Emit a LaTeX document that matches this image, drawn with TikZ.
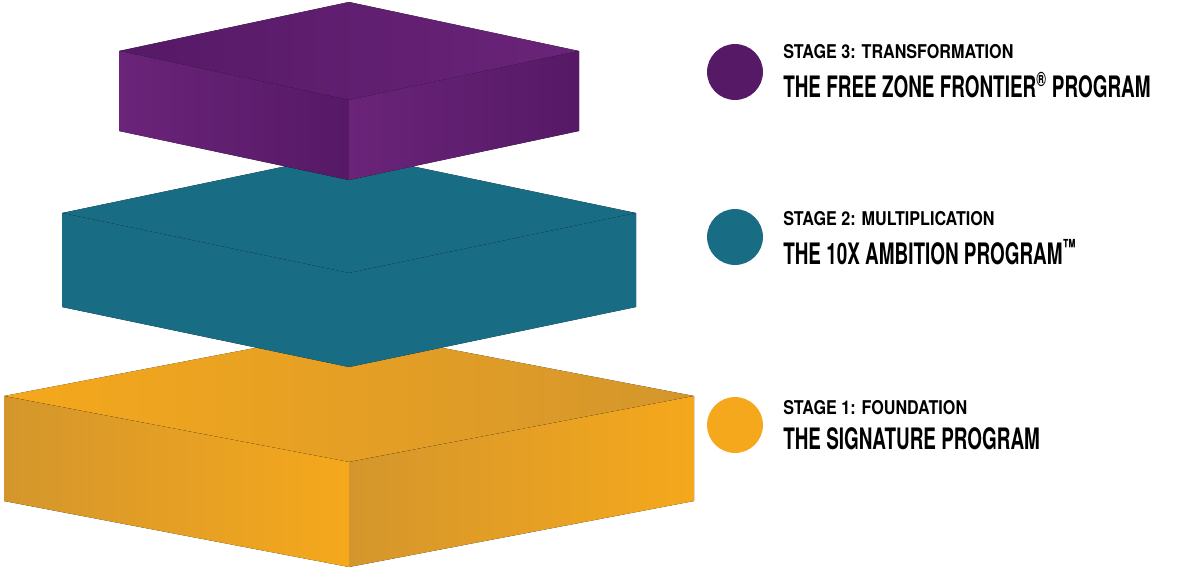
\documentclass[tikz,border=0pt]{standalone}
\usepackage{fontspec}
\setmainfont{TeX Gyre Heros}
\newfontfamily\stagefont{TeX Gyre Heros}[FakeStretch=0.85]
\newfontfamily\namefont{TeX Gyre Heros}[FakeStretch=0.64]
\definecolor{purpA}{HTML}{6A2479}
\definecolor{purpB}{HTML}{561966}
\definecolor{tealA}{HTML}{1A7A92}
\definecolor{tealB}{HTML}{186C84}
\definecolor{gold}{HTML}{D4962C}
\definecolor{goldLight}{HTML}{EDAE5E}
\definecolor{goldBright}{HTML}{F5A81C}
\tikzset{
dotstyle/.style={circle, minimum size=56pt*0.71, inner sep=0pt},
stagestyle/.style={anchor=west, inner sep=0pt, font=\stagefont\bfseries\fontsize{13.5}{14}\selectfont},
namestyle/.style={anchor=west, inner sep=0pt, font=\namefont\bfseries\fontsize{21}{22}\selectfont}
}
% slab: centre x, half width, top y, rise, thickness, colours left/mid/right
\newcommand{\slab}[8]{
  \fill [left color=#8, middle color=#7, right color=#6]
    (#1, #3) -- (#1-#2, #3+#4) -- (#1, #3+2*#4) -- (#1+#2, #3+#4) -- cycle;
  \fill [left color=#6, middle color=#7, right color=#8]
    (#1-#2, #3+#4) -- (#1, #3+2*#4) -- (#1, #3+2*#4+#5) -- (#1-#2, #3+#4+#5) -- cycle;
  \fill [left color=#6, middle color=#7, right color=#8]
    (#1, #3+2*#4) -- (#1+#2, #3+#4) -- (#1+#2, #3+#4+#5) -- (#1, #3+2*#4+#5) -- cycle;
}
\begin{document}
\begin{tikzpicture}[x=0.025cm, y=-0.025cm]
\useasboundingbox (0,0) rectangle (1200,567);
\slab {349}{345}{330}{66}{105}{gold}{goldLight}{goldBright}
\slab {349}{287}{153}{60}{94}{tealB}{tealA}{tealB}
\slab {349}{230}{2}{49}{80}{purpA}{purpB!60!purpA}{purpB}

\node [dotstyle, fill=purpB] (d3) at (735, 72) {};
\node [dotstyle, fill=tealB] (d2) at (735, 237) {};
\node [dotstyle, fill=goldBright] (d1) at (735, 425) {};

\node [stagestyle] (s3) at (783, 52) {STAGE 3: TRANSFORMATION};
\node [namestyle] (n3) at (783, 85) {THE FREE ZONE FRONTIER\textsuperscript{®} PROGRAM};
\node [stagestyle] (s2) at (783, 219) {STAGE 2: MULTIPLICATION};
\node [namestyle] (n2) at (783, 252) {THE 10X AMBITION PROGRAM\textsuperscript{™}};
\node [stagestyle] (s1) at (783, 408) {STAGE 1: FOUNDATION};
\node [namestyle] (n1) at (783, 439) {THE SIGNATURE PROGRAM};
\end{tikzpicture}
\end{document}
